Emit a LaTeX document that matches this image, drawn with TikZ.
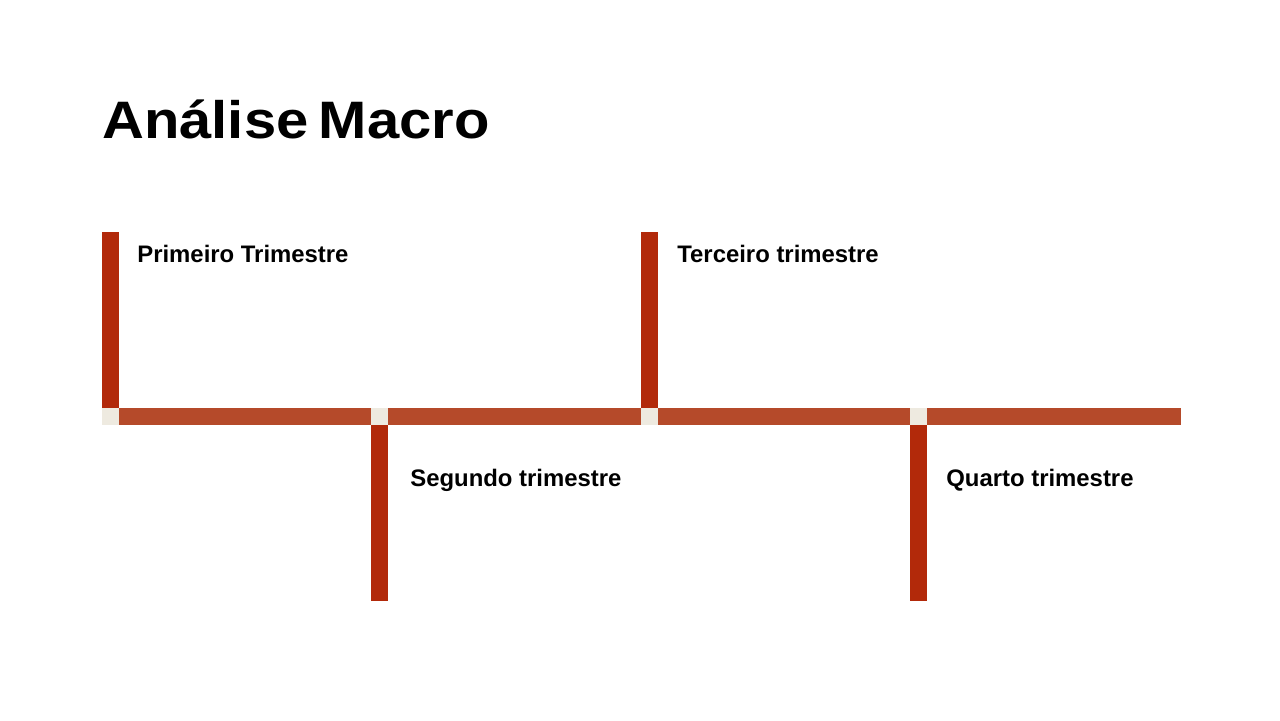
\documentclass[tikz,border=0pt]{standalone}
\usepackage{fontspec}
\setmainfont{Liberation Sans}
\usetikzlibrary{positioning}
\definecolor{rustbar}{HTML}{B54A2A}
\definecolor{rustpost}{HTML}{B2290A}
\definecolor{jointcream}{HTML}{EEEAE0}

\begin{document}
\begin{tikzpicture}[x=0.02cm,y=-0.02cm,
    post/.style={rectangle,fill=rustpost,inner sep=0pt,minimum width=0.34cm,minimum height=3.52cm},
    joint/.style={rectangle,fill=jointcream,inner sep=0pt,minimum size=0.34cm},
    lbl/.style={anchor=base west,inner sep=0pt,font=\fontsize{13.6}{16}\selectfont\bfseries}]
\useasboundingbox (0,0) rectangle (1280,720);
\node[anchor=base west,inner sep=0pt,font=\fontsize{30}{36}\selectfont\bfseries] (title) at (102,138) {\scalebox{1.1}[1]{Análise\hspace{-0.1em} Macro}};
% timeline bar
\node[rectangle,fill=rustbar,inner sep=0pt,minimum width=21.58cm,minimum height=0.34cm] (bar) at (641.5,416.5) {};
% posts above the bar
\foreach \n/\x/\dx/\txt in {p1/110.5/26.5/Primeiro Trimestre, p3/649.5/27.5/Terceiro trimestre} {
    \node[post,anchor=south] (\n) at (\x,408) {};
    \node[joint] (j\n) at (\x,416.5) {};
    \node[lbl] (l\n) at (\x+\dx,262) {\txt};
}
% posts below the bar
\foreach \n/\x/\dx/\txt in {p2/379.5/30.5/Segundo trimestre, p4/918.5/27.5/Quarto trimestre} {
    \node[post,anchor=north] (\n) at (\x,425) {};
    \node[joint] (j\n) at (\x,416.5) {};
    \node[lbl] (l\n) at (\x+\dx,486.5) {\txt};
}
\end{tikzpicture}
\end{document}
